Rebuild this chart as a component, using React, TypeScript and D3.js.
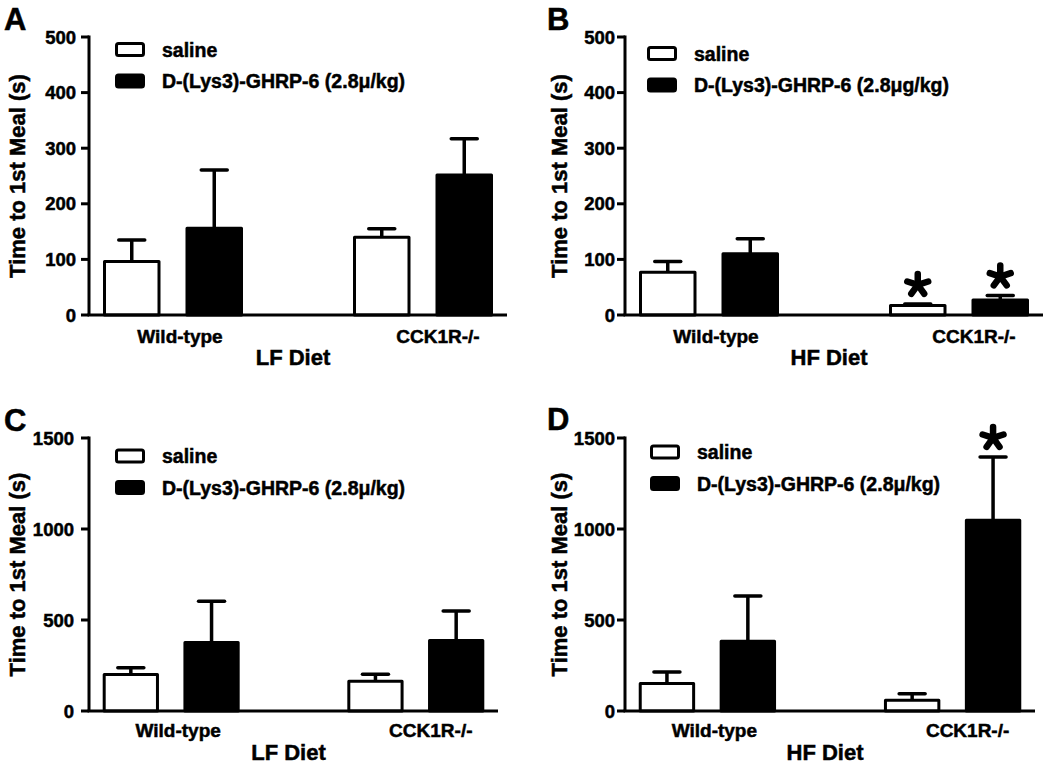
import React from "react";
import * as d3 from "d3";

// ---------- DATA ----------
const groups = ["Wild-type", "CCK1R-/-"];
const seriesKeys = ["saline", "drug"];

const ticksLow = [0, 100, 200, 300, 400, 500];
const ticksHigh = [0, 500, 1000, 1500];

// Panel A (LF diet, 0-500)
const aSaline = [96, 140];
const aSalineErr = [39, 15];
const aDrug = [156, 252];
const aDrugErr = [105, 65];

// Panel B (HF diet, 0-500)
const bSaline = [77, 17];
const bSalineErr = [19, 3];
const bDrug = [110, 27];
const bDrugErr = [27, 8];
const bSalineSig = [false, true];
const bDrugSig = [false, true];

// Panel C (LF diet, 0-1500)
const cSaline = [200, 163];
const cSalineErr = [38, 39];
const cDrug = [376, 388];
const cDrugErr = [227, 161];

// Panel D (HF diet, 0-1500)
const dSaline = [151, 59];
const dSalineErr = [63, 36];
const dDrug = [383, 1048];
const dDrugErr = [249, 348];
const dDrugSig = [false, true];

const legendSaline = "saline";
const legendDrugA = "D-(Lys3)-GHRP-6 (2.8\u03bc/kg)";
const legendDrugB = "D-(Lys3)-GHRP-6 (2.8\u03bcg/kg)";
const yTitle = "Time to 1st Meal (s)";

// ---------- LAYOUT ----------
const FONT = "'Liberation Sans', Arial, Helvetica, sans-serif";

type Panel = {
  letter: string;
  letterX: number;
  letterY: number;
  axisX: number;
  xEnd: number;
  yTop: number;
  yBottom: number;
  yMax: number;
  ticks: number[];
  tickGap: number;
  titleX: number;
  diet: string;
  catY: number;
  dietY: number;
  legendX: number;
  legendY: number;
  drugLabel: string;
  saline: number[];
  salineErr: number[];
  drug: number[];
  drugErr: number[];
  salineSig: boolean[];
  drugSig: boolean[];
};

const none = [false, false];

const panels: Panel[] = [
  {
    letter: "A", letterX: 4, letterY: 30,
    axisX: 89, xEnd: 507, yTop: 37, yBottom: 315, yMax: 500, ticks: ticksLow, tickGap: 13,
    titleX: 25, diet: "LF Diet", catY: 343, dietY: 365,
    legendX: 115, legendY: 49.5, drugLabel: legendDrugA,
    saline: aSaline, salineErr: aSalineErr, drug: aDrug, drugErr: aDrugErr,
    salineSig: none, drugSig: none,
  },
  {
    letter: "B", letterX: 547, letterY: 30,
    axisX: 625, xEnd: 1043, yTop: 37, yBottom: 315, yMax: 500, ticks: ticksLow, tickGap: 10,
    titleX: 567, diet: "HF Diet", catY: 343, dietY: 365,
    legendX: 647, legendY: 53.5, drugLabel: legendDrugB,
    saline: bSaline, salineErr: bSalineErr, drug: bDrug, drugErr: bDrugErr,
    salineSig: bSalineSig, drugSig: bDrugSig,
  },
  {
    letter: "C", letterX: 4, letterY: 431,
    axisX: 89, xEnd: 498, yTop: 438, yBottom: 711, yMax: 1500, ticks: ticksHigh, tickGap: 15,
    titleX: 25, diet: "LF Diet", catY: 737, dietY: 760,
    legendX: 115, legendY: 456, drugLabel: legendDrugA,
    saline: cSaline, salineErr: cSalineErr, drug: cDrug, drugErr: cDrugErr,
    salineSig: none, drugSig: none,
  },
  {
    letter: "D", letterX: 547, letterY: 430,
    axisX: 625, xEnd: 1035, yTop: 438, yBottom: 711, yMax: 1500, ticks: ticksHigh, tickGap: 10,
    titleX: 567, diet: "HF Diet", catY: 737, dietY: 760,
    legendX: 650, legendY: 452, drugLabel: legendDrugA,
    saline: dSaline, salineErr: dSalineErr, drug: dDrug, drugErr: dDrugErr,
    salineSig: none, drugSig: dDrugSig,
  },
];

const catLabelShift = [7, 15];

function Asterisk({ cx, cy }: { cx: number; cy: number }) {
  const r = 11;
  const arms = [0, 1, 2, 3, 4].map((i) => {
    const a = (-90 + i * 72) * (Math.PI / 180);
    return (
      <line
        key={i}
        x1={cx}
        y1={cy}
        x2={cx + r * Math.cos(a)}
        y2={cy + r * Math.sin(a)}
        stroke="#000"
        strokeWidth={6.5}
        strokeLinecap="round"
      />
    );
  });
  return <g>{arms}</g>;
}

function PanelView({ p }: { p: Panel }) {
  const y = d3.scaleLinear().domain([0, p.yMax]).range([p.yBottom, p.yTop]);
  const x0 = d3
    .scaleBand<string>()
    .domain(groups)
    .range([p.axisX, p.xEnd])
    .paddingInner(0.44)
    .paddingOuter(0.056);
  const x1 = d3
    .scaleBand<string>()
    .domain(seriesKeys)
    .range([0, x0.bandwidth()])
    .paddingInner(0.303);

  const seriesData = [
    { key: "saline", vals: p.saline, errs: p.salineErr, sig: p.salineSig, fill: "#fff" },
    { key: "drug", vals: p.drug, errs: p.drugErr, sig: p.drugSig, fill: "#000" },
  ];

  const midX = (p.axisX + p.xEnd) / 2 - 5;
  const midY = (p.yTop + p.yBottom) / 2 + 0;
  const bw = x1.bandwidth();
  const textStroke = { stroke: "#000", strokeWidth: 0.5 };

  return (
    <g fontFamily={FONT} fontWeight="bold" fill="#000">
      <text x={p.letterX} y={p.letterY} fontSize={31} {...textStroke}>
        {p.letter}
      </text>

      {/* bars */}
      {seriesData.map((s) =>
        groups.map((g, i) => {
          const left = (x0(g) as number) + (x1(s.key) as number);
          const cx = left + bw / 2;
          const top = y(s.vals[i]);
          const errTop = y(s.vals[i] + s.errs[i]);
          return (
            <g key={s.key + g}>
              <line x1={cx} x2={cx} y1={top} y2={errTop} stroke="#000" strokeWidth={3.5} />
              <line
                x1={cx - 13}
                x2={cx + 13}
                y1={errTop}
                y2={errTop}
                stroke="#000"
                strokeWidth={3.5}
                strokeLinecap="round"
              />
              <rect
                x={left + 1.5}
                y={top}
                width={bw - 3}
                height={p.yBottom - top}
                fill={s.fill}
                stroke="#000"
                strokeWidth={3}
                strokeLinejoin="round"
              />
              {s.sig[i] && <Asterisk cx={cx} cy={errTop - 19} />}
            </g>
          );
        })
      )}

      {/* axes */}
      <line x1={p.axisX} x2={p.axisX} y1={p.yTop - 1.5} y2={p.yBottom} stroke="#000" strokeWidth={3} />
      <line x1={p.axisX - 1.5} x2={p.xEnd} y1={p.yBottom} y2={p.yBottom} stroke="#000" strokeWidth={3} />
      {p.ticks.map((t) => (
        <g key={t}>
          <line x1={p.axisX - 8} x2={p.axisX} y1={y(t)} y2={y(t)} stroke="#000" strokeWidth={3} />
          <text x={p.axisX - p.tickGap} y={y(t) + 6.5} fontSize={18.5} textAnchor="end" {...textStroke}>
            {t}
          </text>
        </g>
      ))}

      {/* category labels */}
      {groups.map((g, i) => (
        <text
          key={g}
          x={(x0(g) as number) + x0.bandwidth() / 2 + catLabelShift[i]}
          y={p.catY}
          fontSize={19}
          textAnchor="middle"
          {...textStroke}
        >
          {g}
        </text>
      ))}
      <text x={midX} y={p.dietY} fontSize={22} textAnchor="middle" {...textStroke}>
        {p.diet}
      </text>

      {/* y title */}
      <text
        transform={`translate(${p.titleX},${midY}) rotate(-90)`}
        fontSize={22}
        textAnchor="middle"
        {...textStroke}
      >
        {yTitle}
      </text>

      {/* legend */}
      <rect x={p.legendX + 1.5} y={p.legendY - 6} width={27} height={12} rx={2} fill="#fff" stroke="#000" strokeWidth={3} />
      <text x={p.legendX + 47} y={p.legendY + 7} fontSize={19.5} {...textStroke}>
        {legendSaline}
      </text>
      <rect x={p.legendX + 1.5} y={p.legendY + 31.5 - 6} width={27} height={12} rx={2} fill="#000" stroke="#000" strokeWidth={3} />
      <text x={p.legendX + 47} y={p.legendY + 31.5 + 7} fontSize={19.5} {...textStroke}>
        {p.drugLabel}
      </text>
    </g>
  );
}

export default function App() {
  return (
    <svg
      width={1050}
      height={770}
      viewBox="0 0 1050 770"
      style={{ position: "absolute", left: 0, top: 0, background: "#fff" }}
    >
      <rect x={0} y={0} width={1050} height={770} fill="#fff" />
      {panels.map((p) => (
        <PanelView key={p.letter} p={p} />
      ))}
    </svg>
  );
}
